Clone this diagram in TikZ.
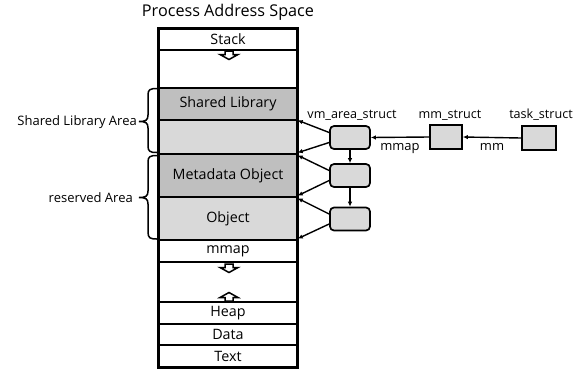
\documentclass[tikz,border=0pt]{standalone}
\usepackage{fontspec}
\setmainfont{Open Sans}
\usetikzlibrary{arrows.meta}
\definecolor{segdark}{HTML}{BFBFBF}
\definecolor{seglight}{HTML}{D9D9D9}
\begin{document}
\begin{tikzpicture}[x=1pt,y=-1pt,
  seg/.style={draw,line width=1.4pt,minimum width=138pt,inner sep=0pt,font=\fontsize{14.3}{16}\selectfont},
  vmbox/.style={draw,line width=1.7pt,fill=seglight,rounded corners=4pt,minimum width=40pt,minimum height=23pt,inner sep=0pt},
  sqbox/.style={draw,line width=1.7pt,fill=seglight,minimum height=24pt,inner sep=0pt},
  lbl/.style={font=\fontsize{13}{15}\selectfont,inner sep=0pt},
  sname/.style={font=\fontsize{12.6}{15}\selectfont,inner sep=0pt},
  conn/.style={line width=1.4pt,-{Latex[length=5pt,width=4.5pt]}},
  hollow/.style={draw,fill=white,line width=1.5pt,line join=miter},
  bracepath/.style={line width=1.5pt}]
\useasboundingbox (0,0) rectangle (581,373);

% title
\node[font=\fontsize{16.2}{18}\selectfont,inner sep=0pt] (title) at (228,12) {Process Address Space};

% address space column
\node[seg,minimum height=21pt] (stack) at (228,39.5) {Stack};
\node[seg,minimum height=38pt] (gapa) at (228,69) {};
\node[seg,minimum height=32pt,fill=segdark] (shlib) at (228,104) {Shared Library};
\node[seg,minimum height=34pt,fill=seglight] (shlibb) at (228,137) {};
\node[seg,minimum height=43pt,fill=segdark] (meta) at (228,175.5) {Metadata Object};
\node[seg,minimum height=43pt,fill=seglight] (obj) at (228,218.5) {Object};
\node[seg,minimum height=22pt] (mmap) at (228,251) {mmap};
\node[seg,minimum height=40pt] (gapb) at (228,282) {};
\node[seg,minimum height=22pt] (heap) at (228,313) {Heap};
\node[seg,minimum height=21pt] (data) at (228,334.5) {Data};
\node[seg,minimum height=22pt] (text) at (228,356) {Text};
\draw[line width=2pt] (stack.north west) rectangle (text.south east);

% growth arrows (hollow block arrows)
\path[hollow] (225,51) -- (233,51) -- (233,54.5) -- (238,54.5) -- (229,59.5) -- (220,54.5) -- (225,54.5) -- cycle;
\path[hollow] (225,264) -- (233,264) -- (233,267.5) -- (238,267.5) -- (229,272.5) -- (220,267.5) -- (225,267.5) -- cycle;
\path[hollow] (225,301) -- (233,301) -- (233,297.5) -- (238,297.5) -- (229,292.5) -- (220,297.5) -- (225,297.5) -- cycle;

% braces
\draw[bracepath] (157,88.5) .. controls (150,88.5) and (148,89.5) .. (148,95) -- (148,115)
  .. controls (148,120) and (146,121.5) .. (139,121.5)
  .. controls (146,121.5) and (148,123) .. (148,128) -- (148,146)
  .. controls (148,151.5) and (150,152.5) .. (157,152.5);
\draw[bracepath] (157,155.5) .. controls (150,155.5) and (148,156.5) .. (148,162) -- (148,191)
  .. controls (148,196) and (146,197.5) .. (139,197.5)
  .. controls (146,197.5) and (148,199) .. (148,204) -- (148,232)
  .. controls (148,238) and (150,239) .. (157,239);
\node[lbl,anchor=east] (shlabel) at (137,122) {Shared Library Area};
\node[lbl,anchor=east] (reslabel) at (133,197.5) {reserved Area};

% kernel structures
\node[vmbox] (vma) at (350,137.5) {};
\node[vmbox] (vmb) at (350,175.5) {};
\node[vmbox] (vmc) at (350,219) {};
\node[sqbox,minimum width=32pt] (mm) at (446,137) {};
\node[sqbox,minimum width=34pt] (task) at (539,138) {};

\node[sname] (vmname) at (352,115) {vm\_area\_struct};
\node[sname] (mmname) at (450,115) {mm\_struct};
\node[sname] (taskname) at (541,115) {task\_struct};

% pointers
\draw[conn] (task.west) -- node[lbl,below=5pt] (mmlbl) {mm} (mm.east);
\draw[conn] (mm.west) -- node[lbl,below=5pt] (mmaplbl) {mmap} (vma.east);
\draw[conn] (vma.south) -- (vmb.north);
\draw[conn] (vmb.south) -- (vmc.north);

\draw[conn] ([yshift=5pt]vma.west) -- ([yshift=-1pt]shlibb.north east);
\draw[conn] ([yshift=-5pt]vma.west) -- ([yshift=2pt]shlibb.south east);
\draw[conn] ([yshift=5pt]vmb.west) -- ([yshift=-2pt]meta.north east);
\draw[conn] ([yshift=-5pt]vmb.west) -- ([yshift=2pt]meta.south east);
\draw[conn] ([yshift=5pt]vmc.west) -- ([yshift=-2pt]obj.north east);
\draw[conn] ([yshift=-5pt]vmc.west) -- ([yshift=2pt]obj.south east);
\end{tikzpicture}
\end{document}
